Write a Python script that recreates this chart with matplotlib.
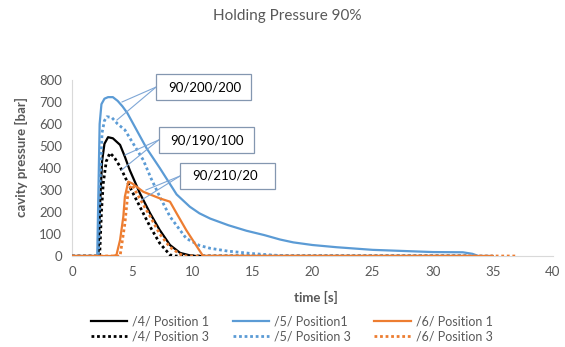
import matplotlib
matplotlib.use("Agg")
import matplotlib.pyplot as plt
from matplotlib.patches import Rectangle

plt.rcParams['font.family'] = ['Lato', 'DejaVu Sans']

# series (time [s], cavity pressure [bar])
t4_p1 = [0, 2.2, 2.35, 2.5, 2.7, 3.0, 3.4, 4.0, 4.4, 4.8, 5.65, 6.5, 7.3, 8.15, 9.0, 9.8, 10.3, 33]
v4_p1 = [0, 0, 250, 430, 510, 540, 535, 505, 451, 391, 285, 194, 118, 50, 14, 3, 0, 0]

t4_p3 = [0, 2.3, 2.45, 2.6, 2.85, 3.15, 3.5, 4.0, 4.8, 5.65, 6.5, 7.3, 8.15, 8.6, 33]
v4_p3 = [0, 0, 200, 330, 430, 468, 450, 406, 315, 224, 133, 58, 5, 0, 0]

t5_p1 = [0, 2.1, 2.2, 2.3, 2.45, 2.7, 3.0, 3.4, 3.8, 4.2, 4.6, 5.1, 6.2, 7.3, 8.7, 9.8, 10.6,
         11.5, 13.0, 14.5, 16.0, 17.3, 18.4, 20, 22, 25, 28, 30, 32.5, 33.3, 33.8, 35]
v5_p1 = [0, 0, 300, 600, 690, 715, 722, 722, 705, 680, 650, 600, 490, 400, 280, 224, 194,
         170, 140, 115, 95, 75, 62, 50, 40, 28, 22, 18, 17, 10, 0, 0]

t5_p3 = [0, 2.2, 2.35, 2.5, 2.7, 2.9, 3.3, 3.8, 4.4, 5.1, 5.93, 6.6, 7.3, 8.15, 9.5, 10.6,
         11.5, 13.0, 14.8, 16.5, 18, 35]
v5_p3 = [0, 0, 350, 560, 615, 633, 630, 600, 573, 510, 436, 350, 270, 179, 80, 48,
         35, 22, 12, 5, 0, 0]

t6_p1 = [0, 3.4, 3.7, 4.0, 4.27, 4.4, 4.68, 5.0, 5.93, 7.3, 8.15, 8.7, 9.5, 10.4, 10.9, 35]
v6_p1 = [0, 0, 5, 73, 179, 270, 338, 330, 292, 262, 247, 194, 118, 42, 0, 0]

t6_p3 = [0, 4.0, 4.4, 4.68, 5.0, 5.65, 6.5, 7.3, 8.15, 9.0, 9.5, 37]
v6_p3 = [0, 0, 148, 300, 323, 260, 180, 100, 40, 8, 0, 0]

labels = ["/4/ Position 1", "/4/ Position 3", "/5/ Position1",
          "/5/ Position 3", "/6/ Position 1", "/6/ Position 3"]

callout_texts = ["90/200/200", "90/190/100", "90/210/20"]
callout_corner = [(7.0, 709), (7.2, 468), (9.0, 305)]
callout_targets = [[(4.16, 700), (3.74, 618)],
                   [(4.4, 459), (4.13, 391)],
                   [(6.15, 300), (5.8, 255)]]
box_w, box_h = 7.9, 118

grey = "#595959"
blue = "#5B9BD5"
orange = "#ED7D31"
dots = (0, (1, 1))

fig = plt.figure(figsize=(5.65, 3.47), dpi=100)
ax = fig.add_axes([0.1274, 0.2622, 0.8513, 0.5073])

h = []
h += ax.plot(t4_p1, v4_p1, color="black", lw=1.6)
h += ax.plot(t4_p3, v4_p3, color="black", lw=2, ls=dots)
h += ax.plot(t5_p1, v5_p1, color=blue, lw=1.6)
h += ax.plot(t5_p3, v5_p3, color=blue, lw=2, ls=dots)
h += ax.plot(t6_p1, v6_p1, color=orange, lw=1.6)
h += ax.plot(t6_p3, v6_p3, color=orange, lw=2, ls=dots)

ax.set_xlim(0, 40)
ax.set_ylim(0, 800)
ax.set_xticks(range(0, 41, 5))
ax.set_yticks(range(0, 801, 100))
ax.tick_params(length=0, labelsize=9.5, colors=grey, pad=7)
for s in ["top", "right"]:
    ax.spines[s].set_visible(False)
for s in ["left", "bottom"]:
    ax.spines[s].set_color("#d9d9d9")
    ax.spines[s].set_zorder(0)

# callout boxes
for txt, (bx, by), targets in zip(callout_texts, callout_corner, callout_targets):
    ax.add_patch(Rectangle((bx, by), box_w, box_h, facecolor="white",
                           edgecolor="#8497b0", lw=0.9, clip_on=False, zorder=5))
    ax.text(bx + 1.0, by + box_h / 2, txt, fontsize=9.5, color="black",
            va="center", ha="left", zorder=6, clip_on=False)
    for tx, ty in targets:
        ax.plot([bx, tx], [by + box_h / 2, ty], color="#7fa7d6", lw=0.8,
                clip_on=False, zorder=4)

fig.text(0.508, 0.954, "Holding Pressure 90%", ha="center", va="center",
         fontsize=11, color=grey)
fig.text(0.56, 0.144, "time [s]", ha="center", va="center",
         fontsize=9.5, color=grey, fontweight="bold")
fig.text(0.038, 0.548, "cavity pressure [bar]", ha="center", va="center",
         rotation=90, fontsize=9.5, color=grey, fontweight="bold")

fig.legend(h, labels, ncol=3, loc="center", bbox_to_anchor=(0.516, 0.052),
           frameon=False, fontsize=9, handlelength=2.9, columnspacing=1.9,
           labelspacing=0.25, handletextpad=0.4)
for t in fig.legends[0].get_texts():
    t.set_color(grey)

plt.savefig("out.png", dpi=100)
